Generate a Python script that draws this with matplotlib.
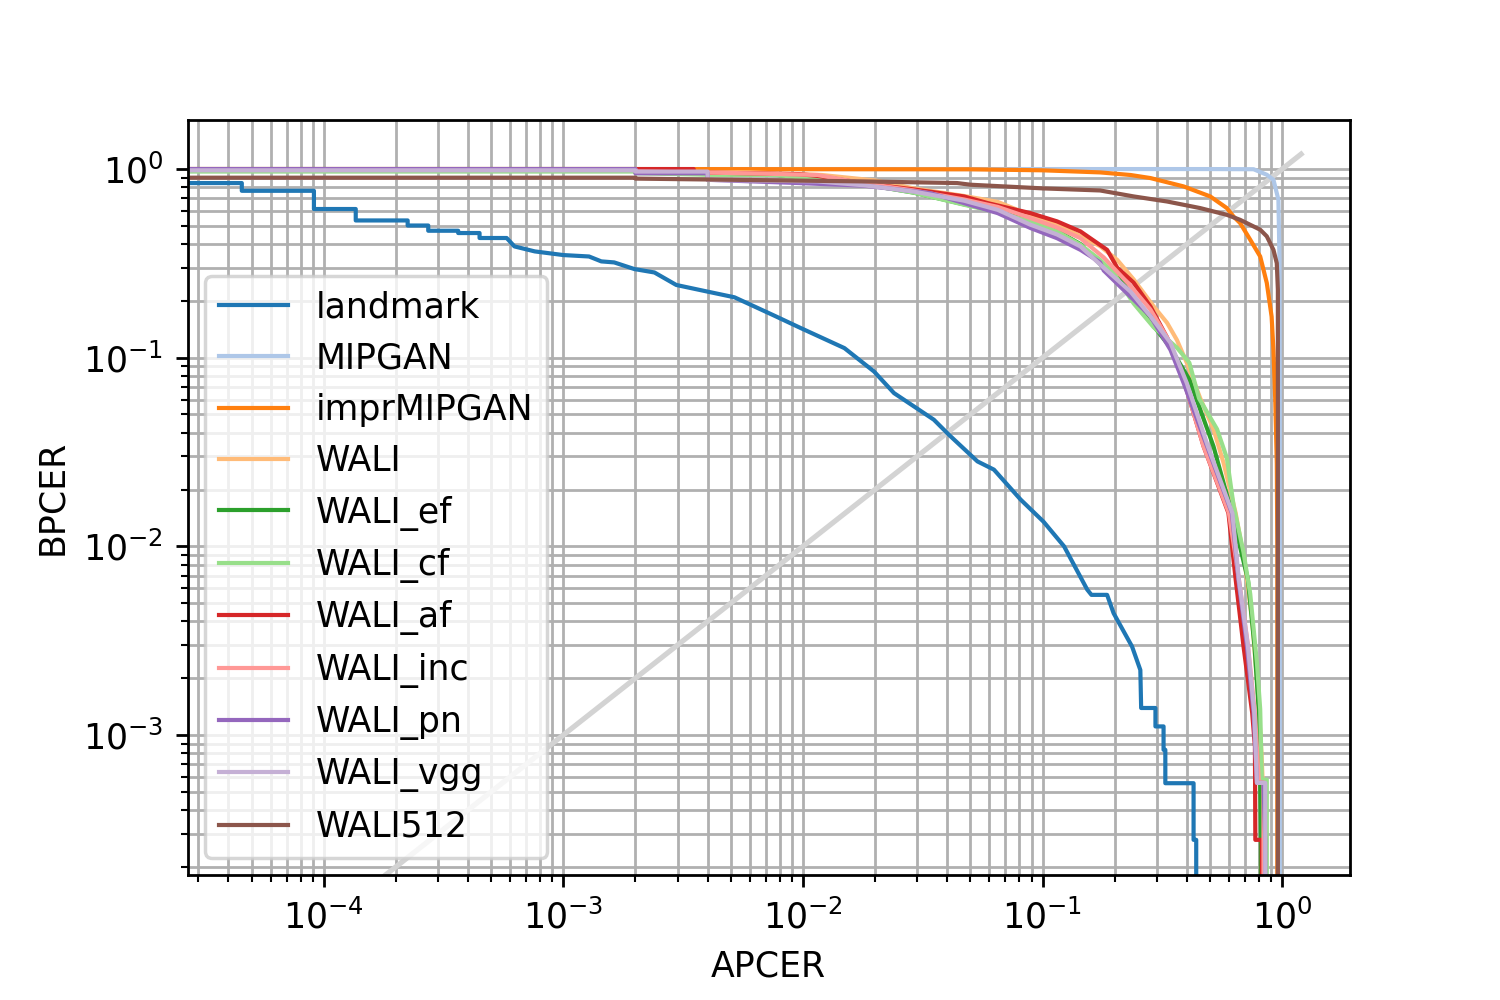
import matplotlib
matplotlib.use("Agg")
import matplotlib.pyplot as plt

# DET curves (APCER, BPCER)
landmark_apcer = [0, 4.55e-5, 4.55e-5, 9.1e-5, 9.1e-5, 1.36e-4, 1.36e-4, 2.24e-4, 2.24e-4,
                  2.73e-4, 2.73e-4, 3.64e-4, 3.64e-4, 4.47e-4, 4.47e-4, 5.8e-4, 6.25e-4,
                  7.6e-4, 1.0e-3, 1.28e-3, 1.44e-3, 1.63e-3, 1.98e-3, 2.4e-3, 2.96e-3,
                  4.0e-3, 5.18e-3, 7.6e-3, 9.8e-3, 0.0149, 0.0198, 0.024, 0.0352, 0.0407,
                  0.0535, 0.0627, 0.081, 0.101, 0.123, 0.1536, 0.16, 0.186, 0.198, 0.2365,
                  0.256, 0.258, 0.296, 0.296, 0.32, 0.32, 0.3255, 0.3255, 0.427, 0.427,
                  0.438, 0.438]
landmark_bpcer = [0.843, 0.843, 0.767, 0.767, 0.614, 0.614, 0.534, 0.534, 0.502,
                  0.502, 0.471, 0.471, 0.458, 0.458, 0.431, 0.431, 0.389,
                  0.366, 0.35, 0.344, 0.324, 0.32, 0.295, 0.283, 0.243,
                  0.224, 0.209, 0.167, 0.1435, 0.1124, 0.0845, 0.0649, 0.0469, 0.039,
                  0.0282, 0.0255, 0.0177, 0.0135, 0.0100, 0.0059, 0.00553, 0.00553, 0.00442, 0.00294,
                  0.00221, 0.00139, 0.00139, 0.00111, 0.00111, 0.000834, 0.000834, 0.000555, 0.000555, 0.000278,
                  0.000278, 0.0]

mipgan_apcer = [0, 0.5, 0.76, 0.863, 0.92, 0.965, 0.975, 0.978, 0.98]
mipgan_bpcer = [1.0, 1.0, 0.998, 0.933, 0.877, 0.688, 0.33, 0.05, 0.0]

impr_apcer = [0, 0.002, 0.05, 0.1, 0.174, 0.233, 0.282, 0.388, 0.501, 0.588, 0.627, 0.668,
              0.736, 0.81, 0.863, 0.904, 0.92, 0.936, 0.95, 0.955, 0.955]
impr_bpcer = [1.0, 1.0, 0.997, 0.985, 0.96, 0.93, 0.896, 0.809, 0.716, 0.621, 0.56, 0.517,
              0.422, 0.344, 0.249, 0.165, 0.11, 0.06, 0.0276, 0.01, 0.0]

wali_apcer = [0, 0.002, 0.002, 0.006, 0.012, 0.02, 0.029, 0.047, 0.065, 0.089, 0.115, 0.144,
              0.174, 0.205, 0.24, 0.291, 0.331, 0.364, 0.40, 0.455, 0.517, 0.57, 0.64, 0.70,
              0.75, 0.79, 0.82, 0.83, 0.85, 0.85]
wali_bpcer = [1.0, 1.0, 0.97, 0.96, 0.93, 0.87, 0.79, 0.72, 0.67, 0.57, 0.51, 0.44,
              0.39, 0.33, 0.26, 0.187, 0.153, 0.124, 0.094, 0.061, 0.0418, 0.0276, 0.015, 0.008,
              0.004, 0.0018, 0.0008, 0.00056, 0.00056, 0.0]

wali_ef_apcer = [0, 0.002, 0.002, 0.004, 0.0078, 0.0096, 0.018, 0.029, 0.047, 0.065, 0.089,
                 0.115, 0.144, 0.18, 0.205, 0.24, 0.291, 0.342, 0.41, 0.455, 0.517, 0.617,
                 0.72, 0.767, 0.80, 0.81, 0.815, 0.815]
wali_ef_bpcer = [1.0, 1.0, 0.96, 0.94, 0.93, 0.91, 0.83, 0.75, 0.65, 0.60, 0.53,
                 0.47, 0.40, 0.30, 0.29, 0.2, 0.147, 0.113, 0.0765, 0.0532, 0.0339, 0.015,
                 0.00666, 0.00295, 0.00131, 0.000557, 0.000278, 0.0]

wali_cf_apcer = [0, 0.002, 0.002, 0.004, 0.0078, 0.018, 0.029, 0.047, 0.065, 0.089, 0.115,
                 0.144, 0.174, 0.198, 0.24, 0.291, 0.364, 0.41, 0.45, 0.535, 0.588, 0.628,
                 0.69, 0.736, 0.785, 0.81, 0.823, 0.863, 0.863]
wali_cf_bpcer = [0.97, 0.97, 0.95, 0.933, 0.93, 0.83, 0.75, 0.647, 0.59, 0.528, 0.467,
                 0.397, 0.33, 0.281, 0.194, 0.145, 0.113, 0.094, 0.0609, 0.0418, 0.0294, 0.0163,
                 0.0093, 0.0056, 0.00241, 0.00137, 0.00058, 0.00058, 0.0]

wali_af_apcer = [0, 0.0035, 0.0035, 0.0059, 0.0096, 0.0115, 0.018, 0.029, 0.047, 0.059, 0.089,
                 0.115, 0.144, 0.186, 0.205, 0.24, 0.282, 0.331, 0.36, 0.388, 0.47, 0.597,
                 0.64, 0.69, 0.75, 0.77, 0.773, 0.823, 0.823]
wali_af_bpcer = [1.0, 1.0, 0.96, 0.95, 0.94, 0.92, 0.84, 0.78, 0.716, 0.66, 0.584,
                 0.528, 0.467, 0.373, 0.30, 0.25, 0.187, 0.128, 0.10, 0.0765, 0.0339, 0.015,
                 0.00666, 0.00295, 0.00131, 0.00087, 0.000278, 0.000278, 0.0]

wali_inc_apcer = [0, 0.002, 0.002, 0.0059, 0.0115, 0.018, 0.029, 0.047, 0.065, 0.089, 0.115,
                  0.144, 0.18, 0.233, 0.282, 0.331, 0.388, 0.47, 0.6, 0.66, 0.72, 0.77,
                  0.80, 0.836, 0.836]
wali_inc_bpcer = [1.0, 1.0, 0.97, 0.95, 0.93, 0.84, 0.77, 0.69, 0.63, 0.55, 0.49,
                  0.43, 0.34, 0.24, 0.18, 0.128, 0.0765, 0.0339, 0.015, 0.0067, 0.003, 0.0013,
                  0.00056, 0.00056, 0.0]

wali_pn_apcer = [0, 0.002, 0.002, 0.004, 0.004, 0.0096, 0.018, 0.034, 0.047, 0.065, 0.089,
                 0.115, 0.144, 0.174, 0.18, 0.24, 0.282, 0.342, 0.388, 0.486, 0.617, 0.657,
                 0.713, 0.76, 0.785, 0.836, 0.85, 0.85]
wali_pn_bpcer = [1.0, 1.0, 0.95, 0.95, 0.877, 0.843, 0.816, 0.746, 0.66, 0.584, 0.487,
                 0.43, 0.373, 0.32, 0.29, 0.203, 0.166, 0.11, 0.0734, 0.0339, 0.015, 0.00666,
                 0.00295, 0.00131, 0.000557, 0.000557, 0.000278, 0.0]

wali_vgg_apcer = [0, 0.002, 0.002, 0.004, 0.004, 0.0115, 0.018, 0.029, 0.047, 0.065, 0.089,
                  0.115, 0.144, 0.18, 0.233, 0.282, 0.342, 0.40, 0.49, 0.62, 0.66, 0.72,
                  0.765, 0.785, 0.85, 0.85]
wali_vgg_bpcer = [0.985, 0.985, 0.97, 0.97, 0.877, 0.86, 0.82, 0.76, 0.68, 0.608, 0.507,
                  0.45, 0.389, 0.3, 0.224, 0.166, 0.12, 0.0734, 0.0339, 0.015, 0.00666, 0.00295,
                  0.00131, 0.000557, 0.000557, 0.0]

wali512_apcer = [0, 0.002, 0.002, 0.018, 0.044, 0.05, 0.1, 0.174, 0.24, 0.331, 0.455,
                 0.588, 0.668, 0.81, 0.863, 0.92, 0.95, 0.96, 0.96]
wali512_bpcer = [0.90, 0.90, 0.89, 0.86, 0.843, 0.826, 0.79, 0.77, 0.716, 0.673, 0.621,
                 0.572, 0.538, 0.477, 0.44, 0.373, 0.317, 0.229, 0.0]

# equal error reference line
eer_line = [1e-5, 1.2]

curves = [
    ("landmark", landmark_apcer, landmark_bpcer, "#1f77b4"),
    ("MIPGAN", mipgan_apcer, mipgan_bpcer, "#aec7e8"),
    ("imprMIPGAN", impr_apcer, impr_bpcer, "#ff7f0e"),
    ("WALI", wali_apcer, wali_bpcer, "#ffbb78"),
    ("WALI_ef", wali_ef_apcer, wali_ef_bpcer, "#2ca02c"),
    ("WALI_cf", wali_cf_apcer, wali_cf_bpcer, "#98df8a"),
    ("WALI_af", wali_af_apcer, wali_af_bpcer, "#d62728"),
    ("WALI_inc", wali_inc_apcer, wali_inc_bpcer, "#ff9896"),
    ("WALI_pn", wali_pn_apcer, wali_pn_bpcer, "#9467bd"),
    ("WALI_vgg", wali_vgg_apcer, wali_vgg_bpcer, "#c5b0d5"),
    ("WALI512", wali512_apcer, wali512_bpcer, "#8c564b"),
]

fig = plt.figure(figsize=(6, 4), dpi=250)
plt.subplots_adjust(left=0.125, right=0.9, top=0.88, bottom=0.125)

plt.plot(eer_line, eer_line, color="lightgray", lw=1.5)
for name, x, y, c in curves:
    plt.plot(x, y, color=c, lw=1.2, label=name)

plt.xscale("log")
plt.yscale("log")
plt.xlim(2.7e-5, 1.92)
plt.ylim(1.81e-4, 1.82)
plt.grid(True, which="both")
plt.xlabel("APCER")
plt.ylabel("BPCER")
plt.legend(loc="lower left")

plt.savefig("out.png")
